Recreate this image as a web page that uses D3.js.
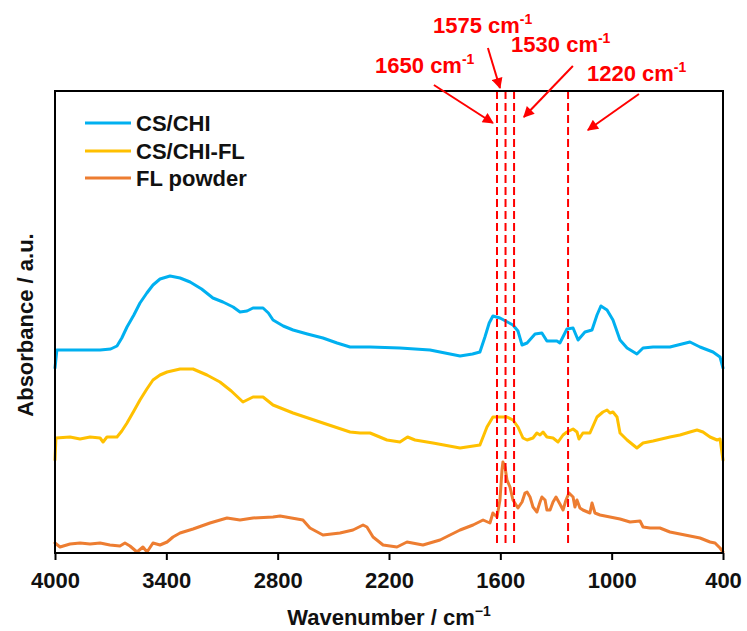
<!DOCTYPE html>
<html>
<head>
<meta charset="utf-8">
<script src="https://cdn.jsdelivr.net/npm/d3@7"></script>
<style>
	body { margin: 0; background: #fff; }
	svg { display: block; font-family: "Liberation Sans", Arial, sans-serif; font-weight: bold; }
</style>
</head>
<body>
<svg id="chart"></svg>
<script>
// x axis ticks (wavenumber, cm-1)
var xTicks = [4000, 3400, 2800, 2200, 1600, 1000, 400];

// CS/CHI spectrum
var csChiWave = [4000, 3990, 3865, 3757, 3700, 3666, 3640, 3612, 3575, 3542, 3505, 3472, 3434, 3380, 3326, 3272, 3210, 3149, 3095, 3040, 3003, 2965, 2933, 2879, 2850, 2825, 2770, 2717, 2640, 2556, 2480, 2410, 2302, 2141, 1979, 1817, 1750, 1710, 1683, 1660, 1640, 1602, 1532, 1505, 1483, 1456, 1413, 1376, 1349, 1295, 1279, 1241, 1208, 1181, 1144, 1106, 1079, 1058, 1025, 993, 955, 917, 864, 831, 777, 686, 578, 524, 454, 416, 400];
var csChiAbs = [185, 203, 203, 203, 204, 207, 215, 226, 238, 250, 260, 268, 274, 277, 275, 271, 264, 255, 251, 246, 241, 242, 245, 245, 240, 233, 227, 223, 219, 215, 210, 206, 206, 205, 203, 197, 199, 201, 216, 230, 237, 235, 228, 222, 208, 210, 219, 220, 212, 212, 210, 224, 225, 213, 221, 223, 238, 247, 243, 233, 213, 205, 199, 205, 206, 206, 211, 206, 201, 196, 185];

// CS/CHI-FL spectrum
var csChiFlWave = [4000, 3995, 3919, 3865, 3811, 3757, 3741, 3720, 3666, 3640, 3612, 3575, 3542, 3505, 3472, 3434, 3396, 3326, 3256, 3181, 3111, 3050, 2987, 2933, 2879, 2825, 2717, 2556, 2410, 2356, 2302, 2211, 2141, 2100, 2060, 1963, 1817, 1710, 1672, 1640, 1602, 1564, 1532, 1505, 1478, 1456, 1424, 1403, 1386, 1370, 1349, 1316, 1289, 1262, 1241, 1208, 1187, 1176, 1155, 1117, 1079, 1047, 1025, 1009, 993, 971, 955, 917, 864, 831, 777, 686, 632, 578, 540, 508, 470, 432, 416, 400];
var csChiFlAbs = [93, 115, 116, 114, 116, 115, 111, 116, 116, 122, 130, 142, 153, 164, 173, 178, 181, 184, 184, 178, 171, 162, 151, 156, 156, 148, 140, 130, 121, 120, 120, 113, 111, 116, 113, 110, 105, 108, 126, 136, 136, 136, 133, 126, 115, 113, 115, 120, 118, 121, 116, 115, 111, 118, 121, 124, 121, 114, 120, 120, 136, 141, 143, 140, 141, 136, 120, 113, 105, 110, 112, 116, 118, 121, 123, 121, 116, 113, 114, 93];

// FL powder spectrum
var flWave = [4000, 3973, 3919, 3865, 3811, 3757, 3704, 3650, 3623, 3596, 3558, 3526, 3504, 3472, 3434, 3396, 3364, 3326, 3256, 3165, 3073, 3003, 2933, 2825, 2787, 2664, 2626, 2556, 2464, 2394, 2340, 2319, 2286, 2232, 2157, 2103, 2017, 1925, 1871, 1817, 1747, 1693, 1656, 1640, 1618, 1602, 1591, 1586, 1575, 1564, 1548, 1532, 1505, 1483, 1467, 1456, 1440, 1424, 1403, 1386, 1376, 1359, 1349, 1332, 1316, 1300, 1279, 1262, 1246, 1230, 1208, 1198, 1187, 1171, 1155, 1117, 1106, 1090, 1063, 1009, 955, 901, 847, 831, 793, 740, 686, 632, 578, 524, 470, 443, 416, 400];
var flAbs = [10, 6, 9, 10, 9, 10, 8, 7, 10, 7, 1, 6, 1, 10, 8, 11, 16, 20, 24, 30, 35, 33, 35, 36, 37, 33, 25, 18, 20, 23, 28, 26, 16, 8, 6, 11, 8, 13, 18, 23, 28, 33, 30, 40, 36, 53, 83, 91, 86, 73, 66, 53, 45, 51, 60, 61, 56, 46, 41, 51, 56, 53, 43, 43, 51, 56, 49, 43, 53, 60, 56, 46, 53, 45, 43, 40, 50, 40, 38, 36, 34, 31, 32, 26, 25, 25, 21, 19, 17, 15, 11, 10, 5, 1];

var seriesNames = ["CS/CHI", "CS/CHI-FL", "FL powder"];
var seriesColors = ["#00b0f0", "#ffc000", "#ed7d31"];

// marked peaks: where the dashed lines sit, and what the labels say
var peakLines = [1618, 1572, 1526, 1235];
var peakLabels = ["1650", "1575", "1530", "1220"];
// label anchor and arrow (from -> to), in wavenumber / a.u.
var labelWave = [2275, 1963, 1542, 1133];
var labelAbs = [480, 520, 501, 472];
var arrowFromWave = [1958, 1667, 1209, 853];
var arrowFromAbs = [468, 505, 487, 459];
var arrowToWave = [1640, 1602, 1473, 1128];
var arrowToAbs = [430, 465, 436, 423];

const width = 747;
const height = 631;
const margin = {top: 91, right: 24, bottom: 78, left: 55};

var svg = d3.select("#chart")
	.attr("width", width)
	.attr("height", height);

var x = d3.scaleLinear()
	.domain([4000, 400])
	.range([margin.left, width - margin.right]);

var y = d3.scaleLinear()
	.domain([0, 462])
	.range([height - margin.bottom, margin.top]);

var series = [
	{name: seriesNames[0], color: seriesColors[0], wave: csChiWave, abs: csChiAbs},
	{name: seriesNames[1], color: seriesColors[1], wave: csChiFlWave, abs: csChiFlAbs},
	{name: seriesNames[2], color: seriesColors[2], wave: flWave, abs: flAbs}
];

var line = d3.line()
	.x(d => x(d[0]))
	.y(d => y(d[1]));

// spectra
series.forEach(function(s) {
	svg.append("path")
		.datum(d3.zip(s.wave, s.abs))
		.attr("fill", "none")
		.attr("stroke", s.color)
		.attr("stroke-width", 3)
		.attr("stroke-linejoin", "round")
		.attr("stroke-linecap", "round")
		.attr("d", line);
});

// dashed peak lines
svg.selectAll(".peakLine")
	.data(peakLines)
	.enter()
	.append("line")
		.attr("class", "peakLine")
		.attr("x1", d => x(d))
		.attr("x2", d => x(d))
		.attr("y1", y(462))
		.attr("y2", (d, i) => i < 3 ? y(6) : y(10))
		.attr("stroke", "#ff0000")
		.attr("stroke-width", 2)
		.attr("stroke-dasharray", "8,4");

// frame
svg.append("rect")
	.attr("x", x(4000))
	.attr("y", y(462))
	.attr("width", x(400) - x(4000))
	.attr("height", y(0) - y(462))
	.attr("fill", "none")
	.attr("stroke", "#000")
	.attr("stroke-width", 2);

// x axis
var xAxis = d3.axisBottom(x)
	.tickValues(xTicks)
	.tickFormat(d3.format("d"))
	.tickSize(7)
	.tickSizeOuter(0)
	.tickPadding(12);

var gx = svg.append("g")
	.attr("transform", "translate(0," + y(0) + ")")
	.call(xAxis);
gx.select(".domain").remove();
gx.selectAll(".tick line").attr("stroke", "#000").attr("stroke-width", 2);
gx.selectAll(".tick text")
	.attr("fill", "#111")
	.style("font-size", "22px")
	.style("font-weight", "bold");

// axis titles
var xTitle = svg.append("text")
	.attr("x", (x(4000) + x(400)) / 2)
	.attr("y", 625)
	.attr("text-anchor", "middle")
	.attr("fill", "#111")
	.style("font-size", "22px");
xTitle.append("tspan").text("Wavenumber / cm");
xTitle.append("tspan").attr("dy", -9).style("font-size", "14px").text("\u22121");

svg.append("text")
	.attr("transform", "translate(33," + 325 + ") rotate(-90)")
	.attr("text-anchor", "middle")
	.attr("fill", "#111")
	.style("font-size", "22px")
	.text("Absorbance / a.u.");

// legend
var legendY = [123, 151, 178];
var legend = svg.selectAll(".legendItem")
	.data(series)
	.enter()
	.append("g")
		.attr("class", "legendItem")
		.attr("transform", (d, i) => "translate(85," + legendY[i] + ")");
legend.append("line")
	.attr("x1", 0)
	.attr("x2", 46)
	.attr("stroke", d => d.color)
	.attr("stroke-width", 3);
legend.append("text")
	.attr("x", 51)
	.attr("dy", "0.36em")
	.attr("fill", "#111")
	.style("font-size", "22px")
	.text(d => d.name);

// arrowhead
svg.append("defs").append("marker")
	.attr("id", "arrowHead")
	.attr("viewBox", "0 0 10 10")
	.attr("refX", 9)
	.attr("refY", 5)
	.attr("markerUnits", "userSpaceOnUse")
	.attr("markerWidth", 13)
	.attr("markerHeight", 11)
	.attr("orient", "auto")
	.append("path")
		.attr("d", "M0,0 L10,5 L0,10 Z")
		.attr("fill", "#ff0000");

// peak annotations
peakLabels.forEach(function(lbl, i) {
	var t = svg.append("text")
		.attr("x", x(labelWave[i]))
		.attr("y", y(labelAbs[i]))
		.attr("fill", "#ff0000")
		.style("font-size", "22px");
	t.append("tspan").text(lbl + " cm");
	t.append("tspan").attr("dy", -9).style("font-size", "14px").text("-1");

	svg.append("line")
		.attr("x1", x(arrowFromWave[i]))
		.attr("y1", y(arrowFromAbs[i]))
		.attr("x2", x(arrowToWave[i]))
		.attr("y2", y(arrowToAbs[i]))
		.attr("stroke", "#ff0000")
		.attr("stroke-width", 2)
		.attr("marker-end", "url(#arrowHead)");
});
</script>
</body>
</html>
